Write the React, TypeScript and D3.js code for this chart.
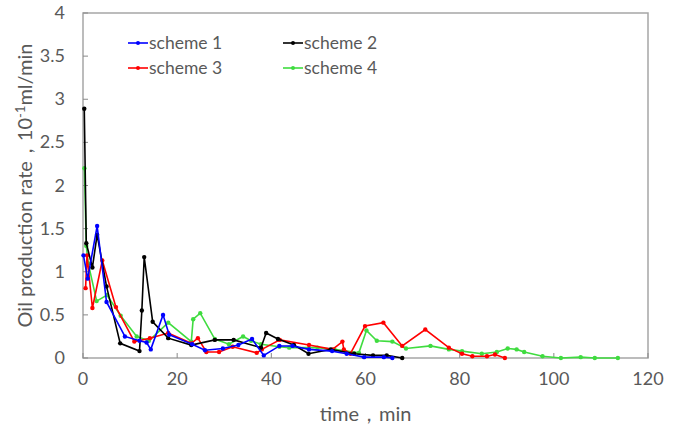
import React from 'react';
import * as d3 from 'd3';

// time (min) and oil rate (10^-1 ml/min)
const scheme1T = [0.1, 1, 3, 5, 8.9, 12, 13.5, 14.4, 17, 18.3, 23.2, 25.9, 29.7, 33, 35.9, 38.4, 41.7, 44.5, 48, 52.9, 56, 59.7, 63.9, 65.7];
const scheme1V = [1.19, 0.92, 1.53, 0.65, 0.25, 0.2, 0.18, 0.1, 0.5, 0.27, 0.16, 0.09, 0.11, 0.15, 0.22, 0.03, 0.14, 0.14, 0.1, 0.08, 0.05, 0.01, 0.01, 0.0];

const scheme2T = [0.27, 0.7, 2, 3, 5, 7.9, 12, 12.5, 13, 14.8, 18.1, 23, 28, 32, 37.8, 38.9, 41.4, 44.8, 47.9, 52.6, 57.6, 61.6, 64.5, 67.8];
const scheme2V = [2.89, 1.33, 1.05, 1.43, 0.83, 0.17, 0.08, 0.55, 1.17, 0.42, 0.23, 0.15, 0.21, 0.21, 0.12, 0.29, 0.22, 0.15, 0.05, 0.1, 0.05, 0.03, 0.03, 0.0];

const scheme3T = [0.55, 0.85, 2, 4.1, 7, 10.9, 14.2, 18.1, 23, 24.4, 26.2, 28.9, 31.8, 36.9, 38, 41.8, 48, 53, 55.1, 55.4, 56.8, 59.9, 63.8, 67.8, 72.7, 77.7, 80.5, 82.7, 85.8, 87.5, 89.6];
const scheme3V = [0.81, 1.19, 0.58, 1.13, 0.59, 0.19, 0.23, 0.29, 0.17, 0.23, 0.07, 0.07, 0.13, 0.06, 0.1, 0.21, 0.15, 0.1, 0.19, 0.1, 0.05, 0.37, 0.41, 0.14, 0.33, 0.12, 0.05, 0.02, 0.02, 0.04, 0.0];

const scheme4T = [0.3, 0.7, 1.1, 2.9, 5.1, 8, 11.4, 14, 18.1, 23, 23.4, 24.9, 28, 31, 34, 35.7, 37.8, 41.7, 43.8, 49.8, 53.4, 58.6, 60.2, 62.4, 65.7, 68.6, 73.8, 77.7, 80.5, 84.7, 87.9, 90.2, 92.1, 93.7, 97.6, 101.5, 105.7, 108.7, 113.6];
const scheme4V = [2.2, 1.3, 1.1, 0.66, 0.73, 0.49, 0.25, 0.2, 0.41, 0.19, 0.45, 0.52, 0.22, 0.16, 0.25, 0.2, 0.16, 0.13, 0.12, 0.12, 0.1, 0.06, 0.32, 0.2, 0.19, 0.11, 0.14, 0.1, 0.08, 0.05, 0.07, 0.11, 0.1, 0.07, 0.02, 0.0, 0.01, 0.0, 0.0];

const seriesNames = ['scheme 1', 'scheme 2', 'scheme 3', 'scheme 4'];
const seriesColors = ['#0000ff', '#000000', '#ff0000', '#3fdc3f'];
const xTicks = [0, 20, 40, 60, 80, 100, 120];
const yTicks = [0, 0.5, 1, 1.5, 2, 2.5, 3, 3.5, 4];

const font = 'Lato, "DejaVu Sans", sans-serif';
const grey = '#595959';

const App = () => {
  const left = 83, right = 648, top = 13, bottom = 358;
  const x = d3.scaleLinear().domain([0, 120]).range([left, right]);
  const y = d3.scaleLinear().domain([0, 4]).range([bottom, top]);

  const all = [
    [scheme1T, scheme1V],
    [scheme2T, scheme2V],
    [scheme3T, scheme3V],
    [scheme4T, scheme4V],
  ].map(([t, v]) => t.map((tt, i) => [tt, v[i]] as [number, number]));

  const line = d3.line<[number, number]>().x(d => x(d[0])).y(d => y(d[1]));

  // draw order: green, red, black, blue roughly like the picture
  const order = [3, 2, 1, 0];

  return (
    <svg width={680} height={432} style={{ position: 'absolute', left: 0, top: 0, background: '#fff' }}>
      <rect x={left} y={top} width={right - left} height={bottom - top} fill="none" stroke="#a6a6a6" strokeWidth={1.5} />

      {xTicks.map(t => (
        <g key={'x' + t}>
          <line x1={x(t)} x2={x(t)} y1={bottom} y2={bottom - 5} stroke="#898989" strokeWidth={1} />
          <text x={x(t)} y={385} textAnchor="middle" fontFamily={font} fontSize={18} fill={grey}>{t}</text>
        </g>
      ))}
      {yTicks.map(t => (
        <g key={'y' + t}>
          <line x1={left} x2={left + 5} y1={y(t)} y2={y(t)} stroke="#898989" strokeWidth={1} />
          <text x={65} y={y(t) + 6} textAnchor="end" fontFamily={font} fontSize={18} fill={grey}>{t}</text>
        </g>
      ))}

      {order.map(k => (
        <g key={'s' + k}>
          <path d={line(all[k]) || ''} fill="none" stroke={seriesColors[k]} strokeWidth={1.6} />
          {all[k].map((d, i) => (
            <circle key={i} cx={x(d[0])} cy={y(d[1])} r={2.2} fill={seriesColors[k]} />
          ))}
        </g>
      ))}

      {seriesNames.map((n, i) => {
        const lx = i % 2 === 0 ? 128 : 283;
        const ly = i < 2 ? 43 : 68;
        return (
          <g key={n}>
            <line x1={lx} x2={lx + 20} y1={ly} y2={ly} stroke={seriesColors[i]} strokeWidth={1.6} />
            <circle cx={lx + 10} cy={ly} r={2} fill={seriesColors[i]} />
            <text x={lx + 21} y={ly + 6} fontFamily={font} fontSize={17.5} fill={grey}>{n}</text>
          </g>
        );
      })}

      <text x={(left + right) / 2} y={421} textAnchor="middle" fontFamily={font} fontSize={20} fill={grey}>time，min</text>
      <text transform={`translate(32, ${(top + bottom) / 2}) rotate(-90)`} textAnchor="middle" fontFamily={font} fontSize={20} fill={grey}>
        Oil production rate，10<tspan fontSize={13} dy={-7}>-1</tspan><tspan dy={7}>ml/min</tspan>
      </text>
    </svg>
  );
};

export default App;
